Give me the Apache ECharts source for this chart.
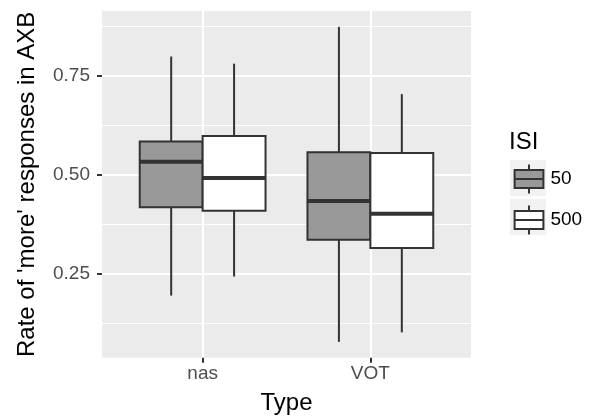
<!DOCTYPE html>
<html><head><meta charset="utf-8">
<script src="https://cdn.jsdelivr.net/npm/echarts@6/dist/echarts.min.js"></script>
<style>html,body{margin:0;padding:0;background:#fff}#c{width:594px;height:420px}</style>
</head><body><div id="c"></div>
<script>
// ---- data ----
const categories = ['nas', 'VOT'];
const groups = ['50', '500'];
// per category: [min, Q1, median, Q3, max]
const isi50 = [[0.194, 0.417, 0.532, 0.583, 0.798], [0.077, 0.335, 0.433, 0.556, 0.873]];
const isi500 = [[0.242, 0.408, 0.491, 0.597, 0.780], [0.101, 0.314, 0.401, 0.554, 0.703]];
const yTicks = [0.25, 0.5, 0.75];
const yTickLabels = ['0.25', '0.50', '0.75'];
const yRange = [0.037, 0.913];

const FONT = 'Liberation Sans, Arial, Helvetica, sans-serif';
const fills = ['#999999', '#ffffff'];
const DODGE = 0.375;

function makeRender(side) {
  return function (params, api) {
    const x = api.value(0);
    const mn = api.value(1), q1 = api.value(2), md = api.value(3), q3 = api.value(4), mx = api.value(5);
    const xl = side === 0 ? x - DODGE : x;
    const xr = xl + DODGE;
    const xc = (xl + xr) / 2;
    const tl = api.coord([xl, q3]);
    const br = api.coord([xr, q1]);
    const a = api.coord([xc, mx]), b = api.coord([xc, q3]);
    const c = api.coord([xc, q1]), d = api.coord([xc, mn]);
    const m1 = api.coord([xl, md]), m2 = api.coord([xr, md]);
    const lineStyle = { stroke: '#333333', lineWidth: 2 };
    return {
      type: 'group',
      children: [
        { type: 'line', shape: { x1: a[0], y1: a[1], x2: b[0], y2: b[1] }, style: lineStyle },
        { type: 'line', shape: { x1: c[0], y1: c[1], x2: d[0], y2: d[1] }, style: lineStyle },
        { type: 'rect', shape: { x: tl[0], y: tl[1], width: br[0] - tl[0], height: br[1] - tl[1] },
          style: { fill: fills[side], stroke: '#333333', lineWidth: 2 } },
        { type: 'line', shape: { x1: m1[0], y1: m1[1], x2: m2[0], y2: m2[1] }, style: { stroke: '#333333', lineWidth: 4 } }
      ]
    };
  };
}

function toData(arr) {
  return arr.map((v, i) => [i + 1].concat(v));
}

const chart = echarts.init(document.getElementById('c'), null, { renderer: 'canvas' });
const iconPath = 'path://M16,0L16,6M0,6L32,6L32,26L0,26ZM0,16L32,16M16,26L16,32';

chart.setOption({
  animation: false,
  backgroundColor: '#ffffff',
  textStyle: { fontFamily: FONT },
  title: {
    text: 'ISI', left: 509, top: 130, padding: 0,
    textStyle: { fontFamily: FONT, fontSize: 24, fontWeight: 'normal', color: '#000000' }
  },
  legend: {
    orient: 'vertical', left: 513.6, top: 163.6, padding: 0,
    itemWidth: 28.8, itemHeight: 28.8, itemGap: 10.2,
    icon: iconPath,
    textStyle: { fontFamily: FONT, fontSize: 19, color: '#000000', padding: [0, 0, 0, 2] },
    data: [
      { name: groups[0], itemStyle: { color: fills[0], borderColor: '#333333', borderWidth: 2 } },
      { name: groups[1], itemStyle: { color: fills[1], borderColor: '#333333', borderWidth: 2 } }
    ]
  },
  graphic: [
    { type: 'rect', left: 510, top: 160, z: 0, shape: { width: 36, height: 36 }, style: { fill: '#f2f2f2' } },
    { type: 'rect', left: 510, top: 199, z: 0, shape: { width: 36, height: 36 }, style: { fill: '#f2f2f2' } }
  ],
  grid: {
    left: 102, top: 11, width: 369, height: 346.7,
    show: true, backgroundColor: '#ebebeb', borderWidth: 0,
    containLabel: false, outerBoundsMode: 'none'
  },
  xAxis: {
    type: 'value', min: 0.4, max: 2.6, minInterval: 1, maxInterval: 1,
    name: 'Type', nameLocation: 'middle', nameGap: 34,
    nameTextStyle: { fontFamily: FONT, fontSize: 24, color: '#000000' },
    axisLine: { show: false },
    axisTick: { show: true, length: 5, lineStyle: { color: '#333333', width: 2 }, customValues: [1, 2] },
    axisLabel: {
      customValues: [1, 2], margin: 7,
      formatter: v => categories[Math.round(v) - 1] || '',
      fontFamily: FONT, fontSize: 19, color: '#4d4d4d'
    },
    splitLine: { show: true, lineStyle: { color: '#ffffff', width: 2 } }
  },
  yAxis: {
    type: 'value', min: yRange[0], max: yRange[1], minInterval: 0.25, maxInterval: 0.25,
    name: "Rate of 'more' responses in AXB", nameLocation: 'middle', nameGap: 63,
    nameTextStyle: { fontFamily: FONT, fontSize: 24, color: '#000000' },
    axisLine: { show: false },
    axisTick: { show: true, length: 5, lineStyle: { color: '#333333', width: 2 }, customValues: yTicks },
    axisLabel: {
      customValues: yTicks, margin: 12,
      formatter: v => { const i = yTicks.findIndex(t => Math.abs(t - v) < 1e-6); return i >= 0 ? yTickLabels[i] : ''; },
      fontFamily: FONT, fontSize: 19, color: '#4d4d4d'
    },
    splitLine: { show: true, lineStyle: { color: '#ffffff', width: 2 } },
    minorTick: { show: false, splitNumber: 2 },
    minorSplitLine: { show: true, lineStyle: { color: '#ffffff', width: 1 } }
  },
  series: [
    { name: groups[0], type: 'custom', renderItem: makeRender(0), data: toData(isi50),
      encode: { x: 0, y: [1, 2, 3, 4, 5] }, itemStyle: { color: fills[0], borderColor: '#333333' } },
    { name: groups[1], type: 'custom', renderItem: makeRender(1), data: toData(isi500),
      encode: { x: 0, y: [1, 2, 3, 4, 5] }, itemStyle: { color: fills[1], borderColor: '#333333' } }
  ]
});
</script>
</body></html>
